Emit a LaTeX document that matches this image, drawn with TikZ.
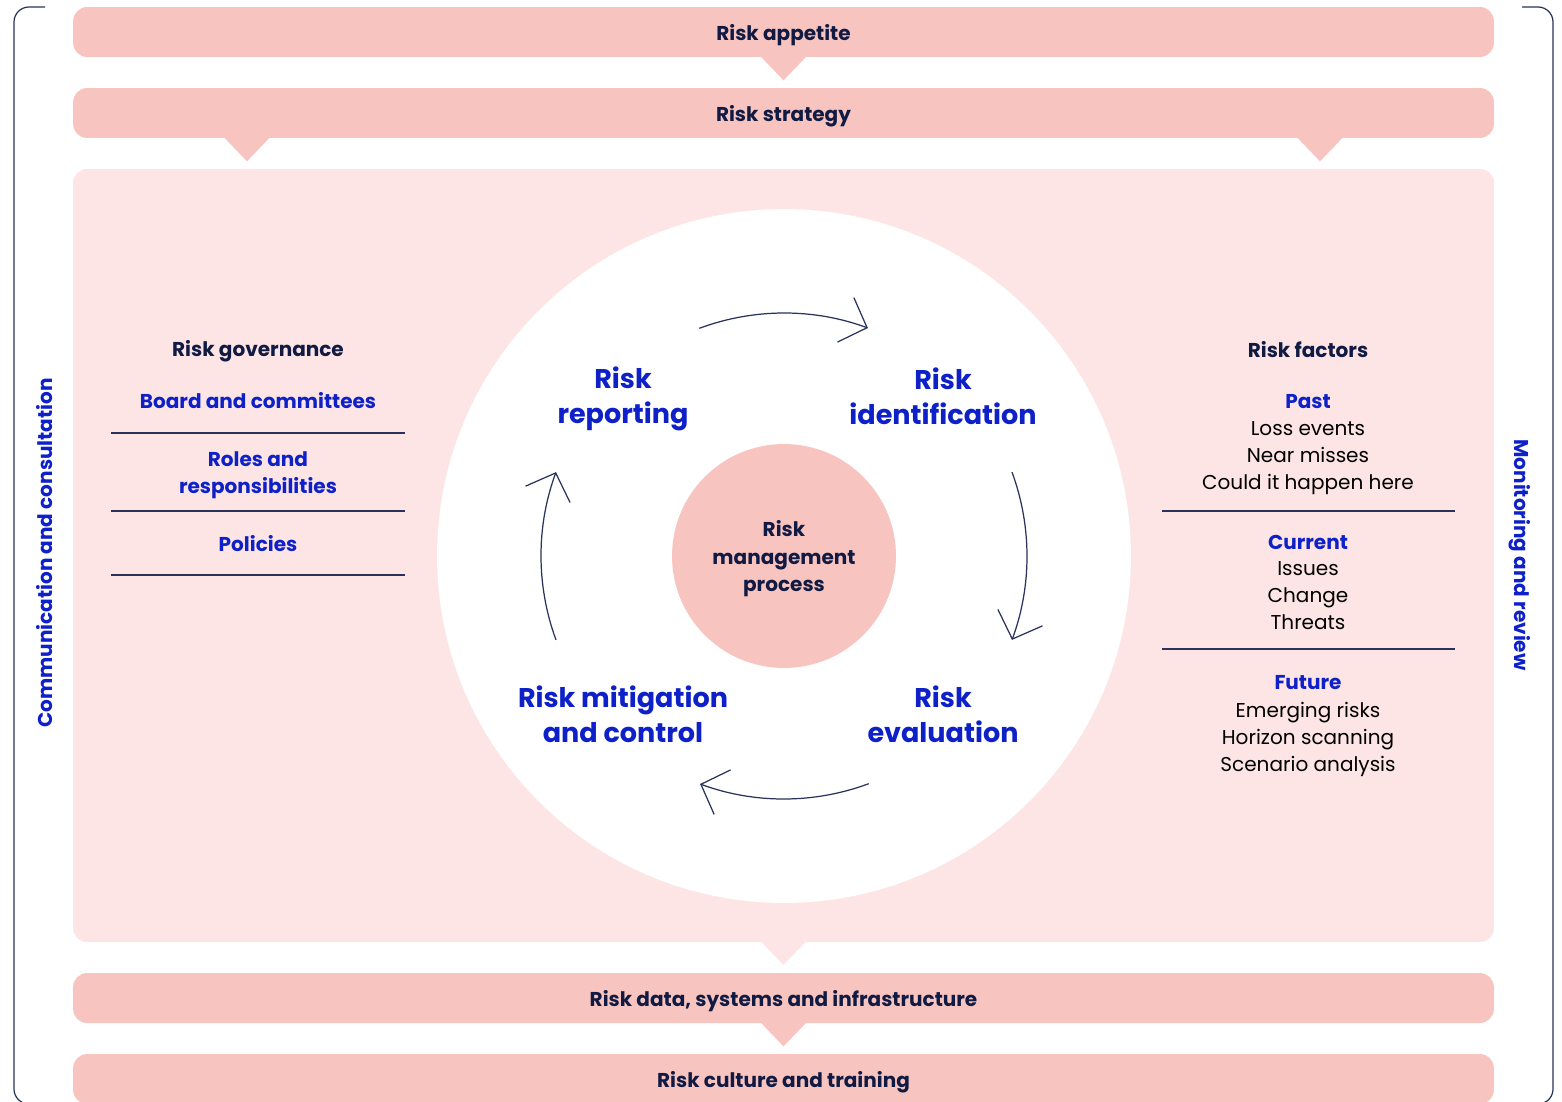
\documentclass[tikz,border=0pt]{standalone}
\usepackage{fontspec}
\setmainfont{Poppins}
\usetikzlibrary{arrows.meta,positioning}
\definecolor{BarPink}{RGB}{248,196,192}
\definecolor{PanelPink}{RGB}{252,229,228}
\definecolor{TextNavy}{RGB}{16,26,66}
\definecolor{LabelBlue}{RGB}{14,32,200}
\definecolor{LineNavy}{RGB}{40,50,90}
\newcommand{\pointer}[2]{%
  \fill[BarPink,#2] (#1) ++(-0.46cm,0.02cm) -- ++(0.46cm,-0.48cm) -- ++(0.46cm,0.48cm) -- cycle;}
\newcommand{\cyclearrow}[2]{%
  \draw[cycarrow] (rmp.center) ++(#1:4.86cm) arc[start angle=#1,end angle=#2,radius=4.86cm];}

\begin{document}
\begin{tikzpicture}[x=0.02cm,y=-0.02cm,
  bar/.style={fill=BarPink,rounded corners=0.28cm,minimum width=28.42cm,minimum height=1cm,
    text depth=0pt,font=\fontsize{11.4}{14}\selectfont\bfseries,text=TextNavy},
  head/.style={font=\fontsize{11.4}{14}\selectfont\bfseries,text=TextNavy},
  item/.style={font=\fontsize{11.4}{15.4}\selectfont\bfseries,text=LabelBlue,align=center},
  plain/.style={font=\fontsize{11.4}{15.4}\selectfont,text=black,align=center},
  stage/.style={font=\fontsize{15.4}{19.9}\selectfont\bfseries,text=LabelBlue,align=center},
  side/.style={font=\fontsize{11.4}{14}\selectfont\bfseries,text=LabelBlue},
  sep/.style={LineNavy,line width=0.6pt},
  cycarrow/.style={LineNavy,line width=0.7pt,-{Straight Barb[length=13pt,width=27pt]}},
  frame/.style={LineNavy,line width=0.7pt,rounded corners=0.3cm}]
  \useasboundingbox (0,0) rectangle (1562,1102);

  % outer frame
  \draw[frame] (45,7) -- (14,7) -- (14,1104) -- (45,1104);
  \draw[frame] (1522,7) -- (1553,7) -- (1553,1104) -- (1522,1104);

  % bars
  \node[bar] (appetite) at (783.5,32) {Risk appetite};
  \node[bar] (strategy) at (783.5,113) {Risk strategy};
  \fill[PanelPink,rounded corners=0.28cm] (73,169) rectangle (1494,942);
  \coordinate (panel) at (783.5,942);
  \node[bar] (data) at (783.5,998) {Risk data, systems and infrastructure};
  \node[bar] (culture) at (783.5,1079) {Risk culture and training};
  \pointer{appetite.south}{}
  \pointer{strategy.south -| 247,0}{}
  \pointer{strategy.south -| 1320,0}{}
  \pointer{panel}{PanelPink}
  \pointer{data.south}{}

  % process cycle
  \node[circle,fill=white,minimum size=13.88cm] (cycle) at (784,556) {};
  \node[circle,fill=BarPink,minimum size=4.48cm,align=center,text depth=0pt,
    font=\fontsize{11.4}{15.4}\selectfont\bfseries,text=TextNavy] (rmp) at (784,556)
    {Risk\\management\\process};
  \node[stage] (report) at (623,399) {Risk\\reporting};
  \node[stage] (ident) at (943,396) {Risk\\identification};
  \node[stage] (mitig) at (623,714) {Risk mitigation\\and control};
  \node[stage] (eval) at (943,714) {Risk\\evaluation};
  \cyclearrow{110.4}{69.8}
  \cyclearrow{20.2}{-20.2}
  \cyclearrow{-69.6}{-110.2}
  \cyclearrow{200.2}{159.8}

  % risk governance
  \node[head] (gov) at (258,351) {Risk governance};
  \node[item] (board) at (258,401) {Board and committees};
  \node[item] (roles) at (258,475) {Roles and\\responsibilities};
  \node[item] (pol) at (258,544) {Policies};
  \draw[sep] (111,433) -- (405,433);
  \draw[sep] (111,511) -- (405,511);
  \draw[sep] (111,575) -- (405,575);

  % risk factors
  \node[head] (fact) at (1308,350) {Risk factors};
  \node[item] (past) at (1308,402) {Past};
  \node[plain,below=0pt of past] (pastl) {Loss events\\Near misses\\Could it happen here};
  \node[item] (curr) at (1308,542) {Current};
  \node[plain,below=0pt of curr] (currl) {Issues\\Change\\Threats};
  \node[item] (fut) at (1308,683) {Future};
  \node[plain,below=0pt of fut] (futl) {Emerging risks\\Horizon scanning\\Scenario analysis};
  \draw[sep] (1162,511) -- (1455,511);
  \draw[sep] (1162,649) -- (1455,649);

  % side labels
  \node[side,rotate=90] (comm) at (45,553) {Communication and consultation};
  \node[side,rotate=-90] (mon) at (1520,555) {Monitoring and review};
\end{tikzpicture}
\end{document}
